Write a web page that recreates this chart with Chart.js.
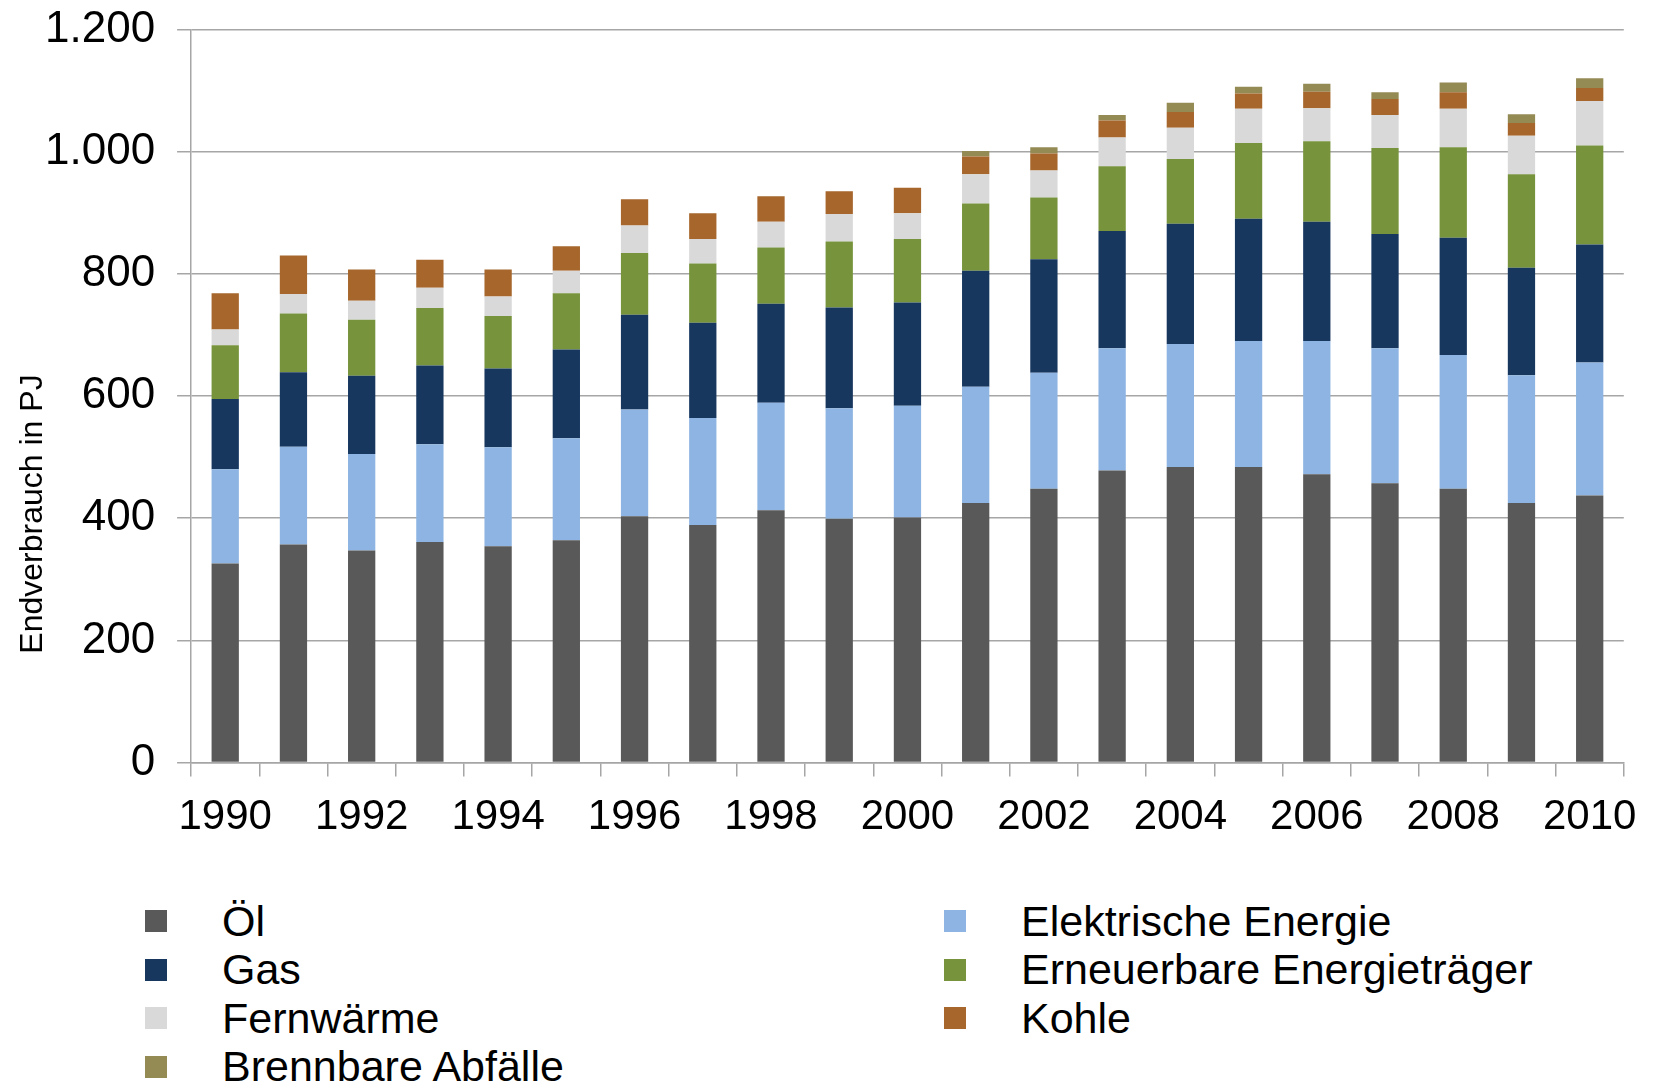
<!DOCTYPE html>
<html>
<head>
<meta charset="utf-8">
<script src="https://cdn.jsdelivr.net/npm/chart.js@4.4.1/dist/chart.umd.min.js"></script>
<style>
  html, body { margin: 0; padding: 0; background: #fff; }
  body { width: 1653px; height: 1084px; position: relative; overflow: hidden; font-family: "Liberation Sans", Arial, sans-serif; }
  #wrap { position: absolute; left: 0; top: -19px; width: 1653px; height: 884px; }
  #legend { position: absolute; left: 145px; top: 897px; display: grid; grid-template-columns: 799px 600px; grid-auto-rows: 48.5px; }
  .item { display: flex; align-items: center; font-size: 43px; color: #000; white-space: nowrap; }
  .box { width: 22px; height: 22px; margin-right: 55px; flex: none; }
</style>
</head>
<body>
<div id="wrap"><canvas id="chart"></canvas></div>
<div id="legend"></div>
<script>
// Daten (PJ), von unten nach oben gestapelt
const years = ['1990','1991','1992','1993','1994','1995','1996','1997','1998','1999','2000',
               '2001','2002','2003','2004','2005','2006','2007','2008','2009','2010'];
const oel        = [326,357,347,361,354,364,403,389,413,399,401,425,448,478,484,484,472,457,448,425,437];
const elektrisch = [154,160,158,160,162,167,175,175,176,181,183,190,190,200,201,206,218,221,219,209,218];
const gas        = [115,122,128,129,129,145,155,156,162,165,169,190,186,192,197,200,195,187,192,176,193];
const erneuerbar = [88,96,92,94,86,92,101,97,92,108,104,110,101,106,106,124,132,141,148,153,162];
const fernwaerme = [26,32,31,33,32,37,45,40,42,45,42,48,44,47,51,56,54,54,63,63,73];
const kohle      = [59,63,51,46,44,40,43,42,42,37,42,29,28,28,26,25,27,26,27,21,21];
const abfaelle   = [0,0,0,0,0,0,0,0,0,0,0,9,10,9,15,11,13,11,16,14,16];

const gridColor = '#a6a6a6';
const fontFamily = '"Liberation Sans", Arial, sans-serif';

function ds(label, data, color) {
    return { label: label, data: data, backgroundColor: color, borderWidth: 0,
             categoryPercentage: 1, barPercentage: 0.4 };
}

// Achsentitel (sitzt im Original nicht mittig zur Achse)
const yTitle = {
    id: 'yTitle',
    afterDraw(chart) {
        const c = chart.ctx;
        c.save();
        c.translate(33, 533);
        c.rotate(-Math.PI / 2);
        c.font = '32px ' + fontFamily;
        c.fillStyle = '#000';
        c.textAlign = 'center';
        c.textBaseline = 'middle';
        c.fillText('Endverbrauch in PJ', 0, 0);
        c.restore();
    }
};

const chart = new Chart(document.getElementById('chart').getContext('2d'), {
    type: 'bar',
    data: {
        labels: years,
        datasets: [
            ds('Öl', oel, '#595959'),
            ds('Elektrische Energie', elektrisch, '#8db4e2'),
            ds('Gas', gas, '#17375e'),
            ds('Erneuerbare Energieträger', erneuerbar, '#77933c'),
            ds('Fernwärme', fernwaerme, '#d9d9d9'),
            ds('Kohle', kohle, '#a6662c'),
            ds('Brennbare Abfälle', abfaelle, '#948a54')
        ]
    },
    options: {
        responsive: true,
        maintainAspectRatio: false,
        animation: false,
        layout: { padding: { left: 23, right: 25, top: 4, bottom: 6 } },
        scales: {
            x: {
                stacked: true,
                offset: true,
                grid: { offset: true, drawOnChartArea: false, drawTicks: true, tickLength: 14, color: gridColor, lineWidth: 1.5 },
                border: { color: gridColor, width: 1.5 },
                ticks: {
                    autoSkip: false, maxRotation: 0, padding: 16, color: '#000',
                    font: { family: fontFamily, size: 42 },
                    callback: (v, i) => (i % 2 === 0 ? years[i] : '')
                }
            },
            y: {
                stacked: true,
                min: 0, max: 1200,
                grid: { color: gridColor, lineWidth: 1.5, tickLength: 14 },
                border: { color: gridColor, width: 1.5 },
                ticks: {
                    stepSize: 200, padding: 22, color: '#000',
                    font: { family: fontFamily, size: 44 },
                    callback: v => String(v).replace(/\B(?=(\d{3})+(?!\d))/g, '.')
                }
            }
        },
        plugins: {
            legend: { display: false },
            tooltip: { enabled: false }
        }
    },
    plugins: [yTitle]
});

// Legende in zwei Spalten wie im Original
const legend = document.getElementById('legend');
chart.data.datasets.forEach(d => {
    const el = document.createElement('div');
    el.className = 'item';
    el.innerHTML = '<span class="box" style="background:' + d.backgroundColor + '"></span>' + d.label;
    legend.appendChild(el);
});
</script>
</body>
</html>
